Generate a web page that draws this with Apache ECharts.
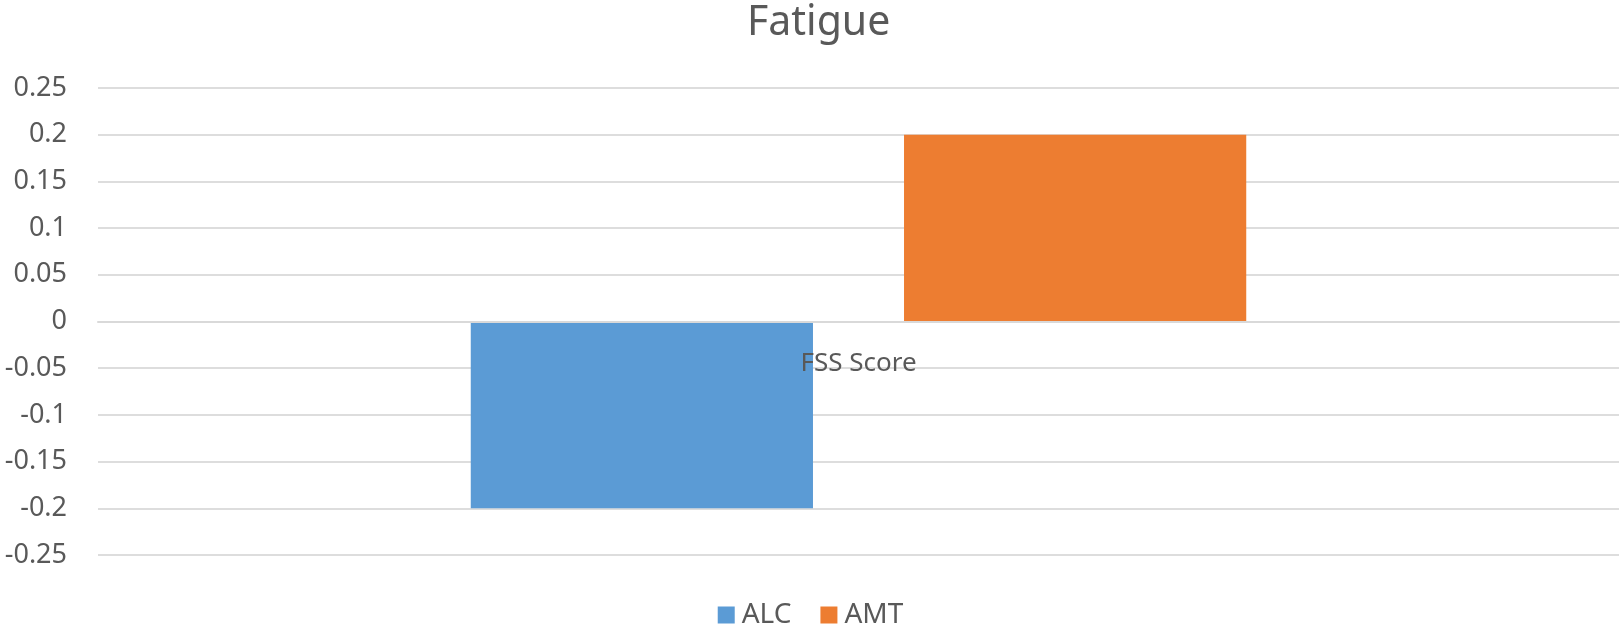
<!DOCTYPE html>
<html>
<head>
<meta charset="utf-8">
<script src="https://cdn.jsdelivr.net/npm/echarts@6/dist/echarts.min.js"></script>
<style>
  html, body { margin: 0; padding: 0; background: #ffffff; }
  #chart { width: 1621px; height: 627px; }
</style>
</head>
<body>
<div id="chart"></div>
<script>
// Fatigue: change in FSS score per group
const categories = ['FSS Score'];
const seriesNames = ['ALC', 'AMT'];
const alcValues = [-0.2];
const amtValues = [0.2];
const yMin = -0.25;
const yMax = 0.25;
const yStep = 0.05;

const textColor = '#595959';
const fontFamily = '"Noto Sans", "Open Sans", sans-serif';
const gridBox = { left: 98, right: 2, top: 88, bottom: 72 };

const chart = echarts.init(document.getElementById('chart'), null, { renderer: 'canvas' });

function buildOption(xOffset) {
  return {
    animation: false,
    backgroundColor: '#ffffff',
    title: {
      text: 'Fatigue',
      left: 742,
      top: -2,
      textStyle: { color: textColor, fontSize: 41, fontWeight: 'normal', fontFamily: fontFamily }
    },
    legend: {
      data: seriesNames,
      left: 'center',
      top: 596,
      itemWidth: 17,
      itemHeight: 17,
      itemGap: 29,
      icon: 'rect',
      textStyle: { color: textColor, fontSize: 28, fontFamily: fontFamily, padding: [0, 0, 0, 2] }
    },
    grid: Object.assign({ containLabel: false }, gridBox),
    xAxis: {
      type: 'category',
      data: categories,
      offset: xOffset,
      z: 10,
      axisLine: { show: true, onZero: false, lineStyle: { color: '#d9d9d9', width: 2 } },
      axisTick: { show: false },
      axisLabel: { color: textColor, fontSize: 26, fontFamily: fontFamily, margin: 29 },
      splitLine: { show: false }
    },
    yAxis: {
      type: 'value',
      min: yMin,
      max: yMax,
      interval: yStep,
      axisLine: { show: false },
      axisTick: { show: false },
      axisLabel: { color: textColor, fontSize: 27, fontFamily: fontFamily, margin: 31 },
      splitLine: { show: true, lineStyle: { color: '#dddddd', width: 2 } }
    },
    series: [
      {
        name: seriesNames[0],
        type: 'bar',
        data: alcValues,
        barWidth: '22.5%',
        barGap: '26.6%',
        itemStyle: { color: '#5B9BD5' }
      },
      {
        name: seriesNames[1],
        type: 'bar',
        data: amtValues,
        barWidth: '22.5%',
        barGap: '26.6%',
        itemStyle: { color: '#ED7D31' }
      }
    ]
  };
}

// First pass lays out the grid; then the category axis (line + label)
// is shifted up so it sits on the value axis zero line.
chart.setOption(buildOption(0));
const zeroY = chart.convertToPixel({ yAxisIndex: 0 }, 0);
const bottomY = chart.getHeight() - gridBox.bottom;
chart.setOption(buildOption(-(bottomY - zeroY)));
</script>
</body>
</html>
